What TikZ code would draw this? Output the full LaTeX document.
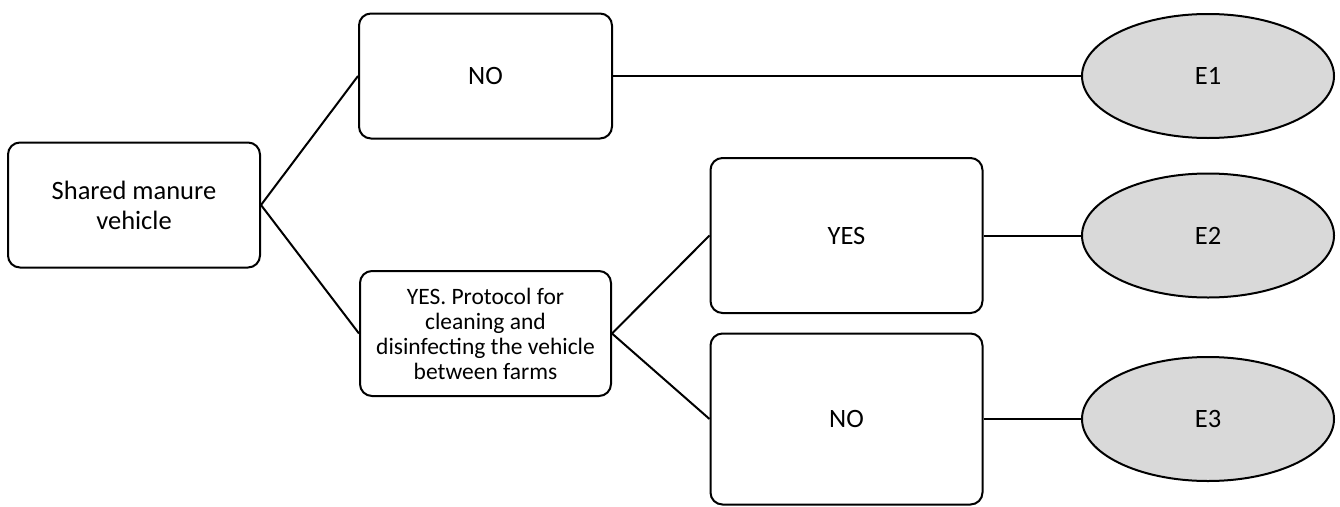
\documentclass[tikz,border=0pt]{standalone}
\usepackage{fontspec}
\setmainfont{Carlito}
\usetikzlibrary{shapes.geometric}
\begin{document}
\begin{tikzpicture}[x=1pt,y=-1pt,
  box/.style={draw=black,line width=2pt,rounded corners=12pt,fill=white,align=center,
    font=\fontsize{26.5}{30}\selectfont,inner sep=0pt},
  small/.style={font=\fontsize{23.5}{25}\selectfont},
  oval/.style={draw=black,line width=2pt,ellipse,fill=black!15,inner sep=0pt,
    minimum width=252pt,minimum height=124pt,font=\fontsize{26.5}{30}\selectfont},
  conn/.style={line width=2pt}]
\useasboundingbox (0,0) rectangle (1340,506);
\node[box,minimum width=252pt,minimum height=125pt] (smv) at (134,205) {Shared manure\\vehicle};
\node[box,minimum width=253pt,minimum height=125pt] (no1) at (485.5,76) {NO};
\node[box,small,minimum width=251pt,minimum height=125pt] (prot) at (485.5,333.5) {YES. Protocol for\\cleaning and\\disinfecting the vehicle\\between farms};
\node[box,minimum width=272pt,minimum height=155pt] (yes) at (846.5,235.5) {YES};
\node[box,minimum width=272pt,minimum height=171pt] (no2) at (846.5,419) {NO};
\node[oval] (e1) at (1208,76) {E1};
\node[oval] (e2) at (1208,235.5) {E2};
\node[oval] (e3) at (1208,419) {E3};
\draw[conn] (smv.east) -- (no1.west);
\draw[conn] (smv.east) -- (prot.west);
\draw[conn] (prot.east) -- (yes.west);
\draw[conn] (prot.east) -- (no2.west);
\draw[conn] (no1.east) -- (e1.west);
\draw[conn] (yes.east) -- (e2.west);
\draw[conn] (no2.east) -- (e3.west);
\end{tikzpicture}
\end{document}
